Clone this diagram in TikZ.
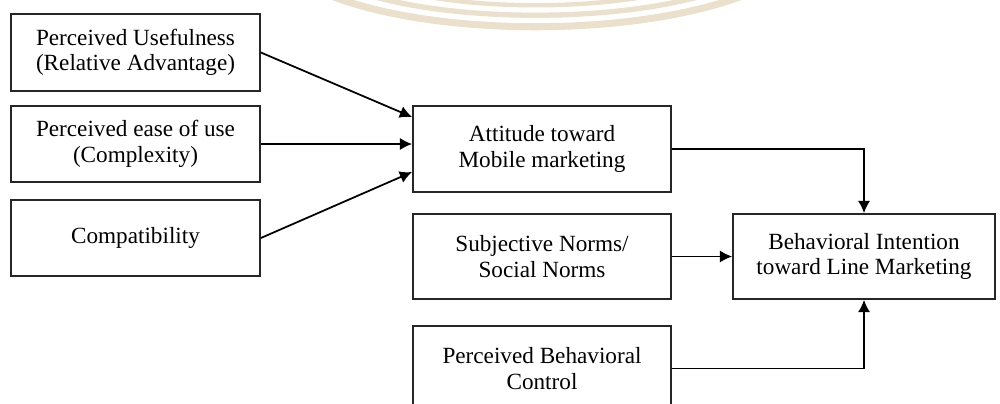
\documentclass[tikz,border=0pt]{standalone}
\usepackage{fontspec}
\setmainfont{Liberation Serif}
\usetikzlibrary{arrows.meta}
\definecolor{markbg}{RGB}{234,224,204}

\begin{document}
\begin{tikzpicture}[x=0.02cm,y=-0.02cm]
            \useasboundingbox (0,0) rectangle (1000,403);
            \clip (0,0) rectangle (1000,403);
            % watermark
            \begin{scope}[draw=markbg, line cap=round]
                \draw[line width=4pt] (290,-25) .. controls (390,44) and (680,44) .. (785,-25);
                \draw[line width=3pt] (330,-20) .. controls (420,27) and (650,27) .. (745,-20);
                \draw[line width=2.5pt] (385,-15) .. controls (450,12) and (620,12) .. (690,-15);
            \end{scope}
            \begin{scope}[every node/.style={draw=black!85,line width=1pt,rectangle,align=center,inner sep=0pt,font=\fontsize{13.2}{14.5}\selectfont}]
                \node[minimum width=249*0.02cm, minimum height=77*0.02cm] (pu) at (135.5,52.5) {Perceived Usefulness\\(Relative Advantage)};
                \node[minimum width=249*0.02cm, minimum height=76*0.02cm] (peou) at (135.5,144) {Perceived ease of use\\(Complexity)};
                \node[minimum width=249*0.02cm, minimum height=76*0.02cm] (comp) at (135.5,238) {Compatibility};

                \node[minimum width=258*0.02cm, minimum height=86*0.02cm] (att) at (542,149) {Attitude toward\\Mobile marketing};
                \node[minimum width=258*0.02cm, minimum height=85*0.02cm] (sn) at (542,256.5) {Subjective Norms/\\Social Norms};
                \node[minimum width=258*0.02cm, minimum height=85*0.02cm] (pbc) at (542,368.5) {Perceived Behavioral\\Control};

                \node[minimum width=262*0.02cm, minimum height=85*0.02cm] (bi) at (864,256.5) {Behavioral Intention\\toward Line Marketing};
            \end{scope}
            \begin{scope}[every edge/.style={draw,line width=1pt,-{Latex[length=7pt,width=7pt]}}]
                \path (pu.east) edge ([yshift=0.64cm]att.west);
                \path (peou.east) edge (att.west |- peou.east);
                \path (comp.east) edge ([yshift=-0.46cm]att.west);

                \path (sn) edge (bi);
            \end{scope}
            \draw[line width=1pt,-{Latex[length=7pt,width=7pt]}] (att.east) -| (bi.north);
            \draw[line width=1pt,-{Latex[length=7pt,width=7pt]}] (pbc.east) -| (bi.south);
        \end{tikzpicture}
\end{document}
